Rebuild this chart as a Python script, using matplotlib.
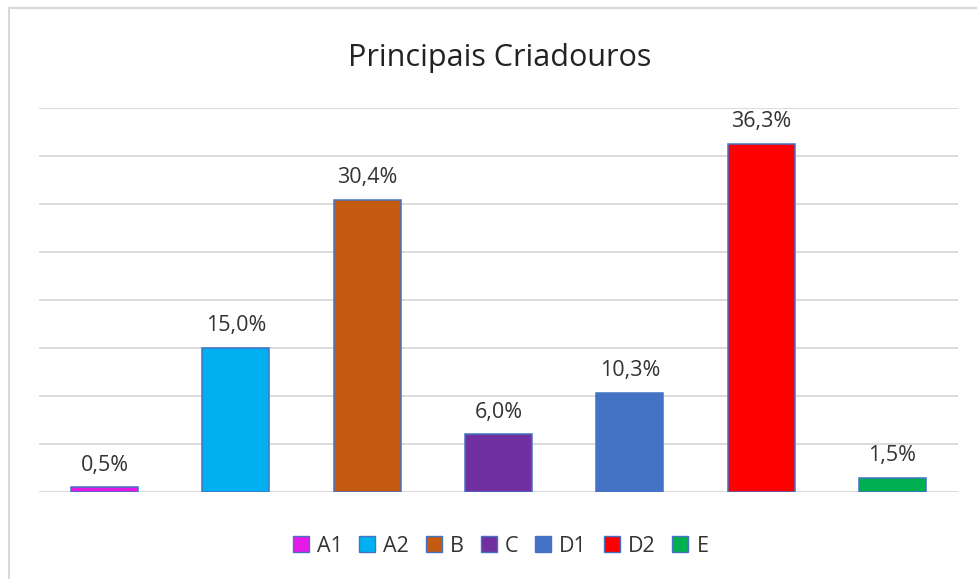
import matplotlib
matplotlib.use('Agg')
from matplotlib import pyplot as plt
from matplotlib.patches import Rectangle
from matplotlib.lines import Line2D

# data
categorias = ['A1', 'A2', 'B', 'C', 'D1', 'D2', 'E']
percentuais = [0.5, 15.0, 30.4, 6.0, 10.3, 36.3, 1.5]
cores = ['#E619E6', '#00B0F0', '#C55A11', '#7030A0', '#4472C4', '#FF0000', '#00B050']

plt.rcParams['font.family'] = ['Open Sans', 'DejaVu Sans']

fig = plt.figure(figsize=(9.77, 5.79), dpi=100)
ax = fig.add_axes([39 / 977, 1 - 492 / 579, 919 / 977, 384 / 579])

x = list(range(len(categorias)))
bars = ax.bar(x, percentuais, width=0.51, color=cores, edgecolor='#4472C4',
              linewidth=1.1, zorder=3)

# data labels, decimal comma
for b, v in zip(bars, percentuais):
    ax.annotate(f'{v:.1f}%'.replace('.', ','), (b.get_x() + b.get_width() / 2, v),
                xytext=(0, 12), textcoords='offset points', ha='center', va='baseline',
                fontsize=15.5, color='#333333')

ax.set_xlim(-0.5, len(categorias) - 0.5)
ax.set_ylim(0, 40)
ax.set_yticks(range(0, 41, 5))
ax.yaxis.grid(True, color='#D9D9D9', linewidth=1.3, zorder=0)
ax.set_axisbelow(True)
ax.tick_params(left=False, bottom=False, labelleft=False, labelbottom=False)
for s in ax.spines.values():
    s.set_visible(False)

fig.text(0.511, 1 - 66 / 579, 'Principais Criadouros', ha='center', va='baseline',
         fontsize=22, color='#222222')

# legend with square markers
handles = [Line2D([], [], marker='s', linestyle='none', markersize=11,
                  markerfacecolor=c, markeredgecolor='#4472C4', markeredgewidth=1)
           for c in cores]
fig.legend(handles, categorias, loc='center', bbox_to_anchor=(0.512, 1 - 546 / 579),
           ncol=7, frameon=False, fontsize=15.5, handletextpad=0.35, columnspacing=0.75,
           handlelength=0.8, labelcolor='#333333')

# chart border (left and top visible)
fig.patches.append(Rectangle((9 / 977, -0.1), 1.2, (579 - 8) / 579 + 0.1,
                             transform=fig.transFigure, fill=False,
                             edgecolor='#D9D9D9', linewidth=1.5))

fig.savefig('out.png', dpi=100, facecolor='white')
